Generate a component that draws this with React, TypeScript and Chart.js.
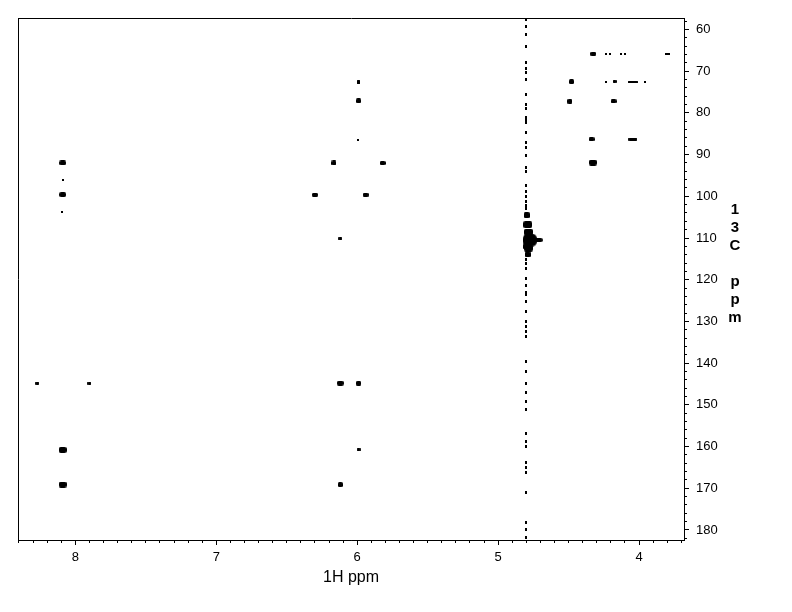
import React, { useEffect, useRef } from 'react';
import { Chart, registerables } from 'chart.js';

Chart.register(...registerables);

// ---------- axis ranges & tick labels ----------
const H_MIN = 3.681;
const H_MAX = 8.407;
const C_MIN = 57.25;
const C_MAX = 182.4;

const xTickLabels = [4, 5, 6, 7, 8];
const yTickLabels = [60, 70, 80, 90, 100, 110, 120, 130, 140, 150, 160, 170, 180];
const xTitle = '1H ppm';
const yTitle = '13C ppm';

// ---------- cross peaks (1H ppm, 13C ppm, peak class) ----------
const crossH = [
  8.09, 8.09, 8.09, 8.095, 8.09, 8.09, 8.27, 7.90,
  5.99, 5.99, 5.995, 6.165, 5.82, 6.30, 5.94, 6.12, 6.12, 5.99, 5.99, 6.12,
  4.325, 4.233, 4.209, 4.126, 4.098, 3.80,
  4.479, 4.235, 4.174, 4.044, 3.956,
  4.491, 4.181,
  4.337, 4.044,
  4.328,
];
const crossC = [
  92.0, 96.1, 99.6, 103.7, 160.8, 169.1, 144.8, 144.8,
  72.6, 77.1, 86.5, 92.0, 92.0, 99.6, 99.6, 110.2, 144.8, 144.8, 160.8, 169.1,
  65.8, 65.8, 65.8, 65.8, 65.8, 65.8,
  72.5, 72.5, 72.5, 72.5, 72.5,
  77.2, 77.2,
  86.3, 86.3,
  91.9,
];
const crossClass = [
  'l', 'd', 'l', 'd', 'xl', 'xl', 's', 's',
  'v', 'n', 'd', 'n', 'm', 'm', 'm', 's', 'l', 'n', 's', 'n',
  'm', 'd', 'd', 'd', 'd', 'h3',
  'n', 'd', 's', 'h', 'd',
  'n', 'm',
  'm', 'h2',
  'xl',
];

// ---------- solvent (t1-noise) streak ----------
const streakH = 4.802;
const streakC = [
  57.6, 59.4, 61.1, 64.2, 68.0, 69.4, 70.4, 72.1, 75.7, 77.9, 78.9, 81.0, 81.9, 82.4,
  84.8, 87.0, 88.4, 90.1, 93.2, 94.1, 97.3, 98.9, 100.1, 101.3, 102.1,
  116.2, 117.2, 119.6, 121.3, 123.0, 123.6, 125.3, 127.7, 130.1, 131.3, 132.5, 133.7,
  139.7, 141.9, 144.8, 147.0, 149.3, 151.2, 156.8, 158.9, 160.1, 163.7, 164.9, 166.1,
  170.9, 178.3, 180.0, 181.9,
];

// ---------- solvent blob ----------
const blobH = [4.80, 4.797, 4.79, 4.785, 4.775, 4.722, 4.785, 4.79, 4.80, 4.80];
const blobC = [103.0, 104.5, 106.8, 108.6, 110.5, 110.5, 112.4, 113.9, 115.2, 112.0];
const blobClass = ['t', 'b6', 'b8', 'b8', 'bc', 'br', 'b8', 'b6', 't', 'b6'];

// ---------- styles ----------
const SHAPES: Record<string, [number, number, number]> = {
  xl: [8, 6, 2],
  l: [7, 5, 2],
  m: [6, 4, 1.5],
  n: [5, 5, 1.5],
  s: [4, 3, 1],
  v: [3, 4, 0.5],
  d: [2, 2, 0],
  t: [2, 3, 0],
  h: [10, 2, 0.5],
  h2: [9, 3, 1],
  h3: [5, 2, 0],
  b6: [6, 6, 1.5],
  b8: [9, 7, 2],
  bc: [14, 13, 5],
  br: [11, 4, 2],
};

const FONT = '"Liberation Sans", Arial, Helvetica, sans-serif';

function makeSprites(): Record<string, HTMLCanvasElement> {
  const out: Record<string, HTMLCanvasElement> = {};
  for (const key of Object.keys(SHAPES)) {
    const [w, h, r] = SHAPES[key];
    const c = document.createElement('canvas');
    c.width = w;
    c.height = h;
    const g = c.getContext('2d')!;
    g.fillStyle = '#000';
    g.beginPath();
    if (r > 0 && (g as any).roundRect) (g as any).roundRect(0, 0, w, h, r);
    else g.rect(0, 0, w, h);
    g.fill();
    out[key] = c;
  }
  return out;
}

const range = (a: number, b: number, step: number) => {
  const arr: number[] = [];
  for (let v = a; v <= b + 1e-9; v += step) arr.push(Math.round(v * 100) / 100);
  return arr;
};

const stackedTitle = {
  id: 'stackedTitle',
  afterDraw(chart: any) {
    const { ctx, chartArea } = chart;
    ctx.save();
    ctx.font = `bold 15px ${FONT}`;
    ctx.fillStyle = '#000';
    ctx.textAlign = 'center';
    ctx.textBaseline = 'middle';
    const x = chartArea.right + 51;
    let y = chartArea.top + 192;
    for (const ch of yTitle.split('')) {
      if (ch.trim()) ctx.fillText(ch, x, y);
      y += 18;
    }
    ctx.restore();
  },
};

export default function App() {
  const ref = useRef<HTMLCanvasElement | null>(null);

  useEffect(() => {
    if (!ref.current) return;
    const sprites = makeSprites();

    const cross = crossH.map((h, i) => ({ x: h, y: crossC[i] }));
    const streak = streakC.map((c) => ({ x: streakH, y: c }));
    const blob = blobH.map((h, i) => ({ x: h, y: blobC[i] }));

    const frameAxis = (position: string, horizontal: boolean) => ({
      type: 'linear',
      position,
      reverse: true,
      min: horizontal ? H_MIN : C_MIN,
      max: horizontal ? H_MAX : C_MAX,
      ticks: { display: false },
      grid: { drawOnChartArea: false, drawTicks: false },
      border: { display: true, color: '#000', width: 1 },
      afterFit: (s: any) => {
        if (horizontal) s.height = 0;
        else s.width = 0;
      },
    });

    const chart = new Chart(ref.current, {
      type: 'scatter',
      data: {
        datasets: [
          {
            data: cross,
            pointStyle: (c: any) => sprites[crossClass[c.dataIndex]] as any,
            pointRadius: 3,
            backgroundColor: '#000',
            borderWidth: 0,
          },
          {
            data: streak,
            pointStyle: sprites['t'] as any,
            pointRadius: 2,
            backgroundColor: '#000',
            borderWidth: 0,
          },
          {
            data: blob,
            pointStyle: (c: any) => sprites[blobClass[c.dataIndex]] as any,
            pointRadius: 3,
            backgroundColor: '#000',
            borderWidth: 0,
          },
        ] as any,
      },
      options: {
        animation: false,
        responsive: true,
        maintainAspectRatio: false,
        events: [],
        layout: { padding: { left: 18, top: 18, right: 0, bottom: 0 } },
        plugins: { legend: { display: false }, tooltip: { enabled: false } },
        scales: {
          x: {
            type: 'linear',
            position: 'bottom',
            weight: 1,
            reverse: true,
            min: H_MIN,
            max: H_MAX,
            afterBuildTicks: (s: any) => {
              s.ticks = xTickLabels.map((v) => ({ value: v }));
            },
            ticks: {
              color: '#000',
              font: { family: FONT, size: 13 },
              padding: 5,
              maxRotation: 0,
              autoSkip: false,
              callback: (v: any) => String(v),
            },
            grid: { drawOnChartArea: false, drawTicks: true, tickLength: 5, color: '#000' },
            border: { display: true, color: '#000', width: 1 },
            title: {
              display: true,
              text: xTitle,
              color: '#000',
              font: { family: FONT, size: 16 },
              padding: { top: 0, bottom: 25 },
            },
            afterFit: (s: any) => {
              s.height = 72;
            },
          },
          xMinor: {
            type: 'linear',
            position: 'bottom',
            weight: 0,
            reverse: true,
            min: H_MIN,
            max: H_MAX,
            afterBuildTicks: (s: any) => {
              s.ticks = range(3.7, 8.4, 0.1).map((v) => ({ value: v }));
            },
            ticks: { display: false },
            grid: { drawOnChartArea: false, drawTicks: true, tickLength: 3, color: '#000' },
            border: { display: true, color: '#000', width: 1 },
            afterFit: (s: any) => {
              s.height = 0;
            },
          },
          y: {
            type: 'linear',
            position: 'right',
            weight: 1,
            reverse: true,
            min: C_MIN,
            max: C_MAX,
            afterBuildTicks: (s: any) => {
              s.ticks = yTickLabels.map((v) => ({ value: v }));
            },
            ticks: {
              color: '#000',
              font: { family: FONT, size: 13 },
              padding: 7,
              autoSkip: false,
              callback: (v: any) => String(v),
            },
            grid: { drawOnChartArea: false, drawTicks: true, tickLength: 5, color: '#000' },
            border: { display: true, color: '#000', width: 1 },
            afterFit: (s: any) => {
              s.width = 108;
            },
          },
          yMinor: {
            type: 'linear',
            position: 'right',
            weight: 0,
            reverse: true,
            min: C_MIN,
            max: C_MAX,
            afterBuildTicks: (s: any) => {
              s.ticks = range(58, 182, 2).map((v) => ({ value: v }));
            },
            ticks: { display: false },
            grid: { drawOnChartArea: false, drawTicks: true, tickLength: 3, color: '#000' },
            border: { display: true, color: '#000', width: 1 },
            afterFit: (s: any) => {
              s.width = 0;
            },
          },
          xTop: frameAxis('top', true) as any,
          yLeft: frameAxis('left', false) as any,
        } as any,
      },
      plugins: [stackedTitle],
    } as any);

    return () => chart.destroy();
  }, []);

  return (
    <div style={{ position: 'absolute', left: 0, top: 0, width: 792, height: 612, background: '#fff' }}>
      <canvas ref={ref} />
    </div>
  );
}
